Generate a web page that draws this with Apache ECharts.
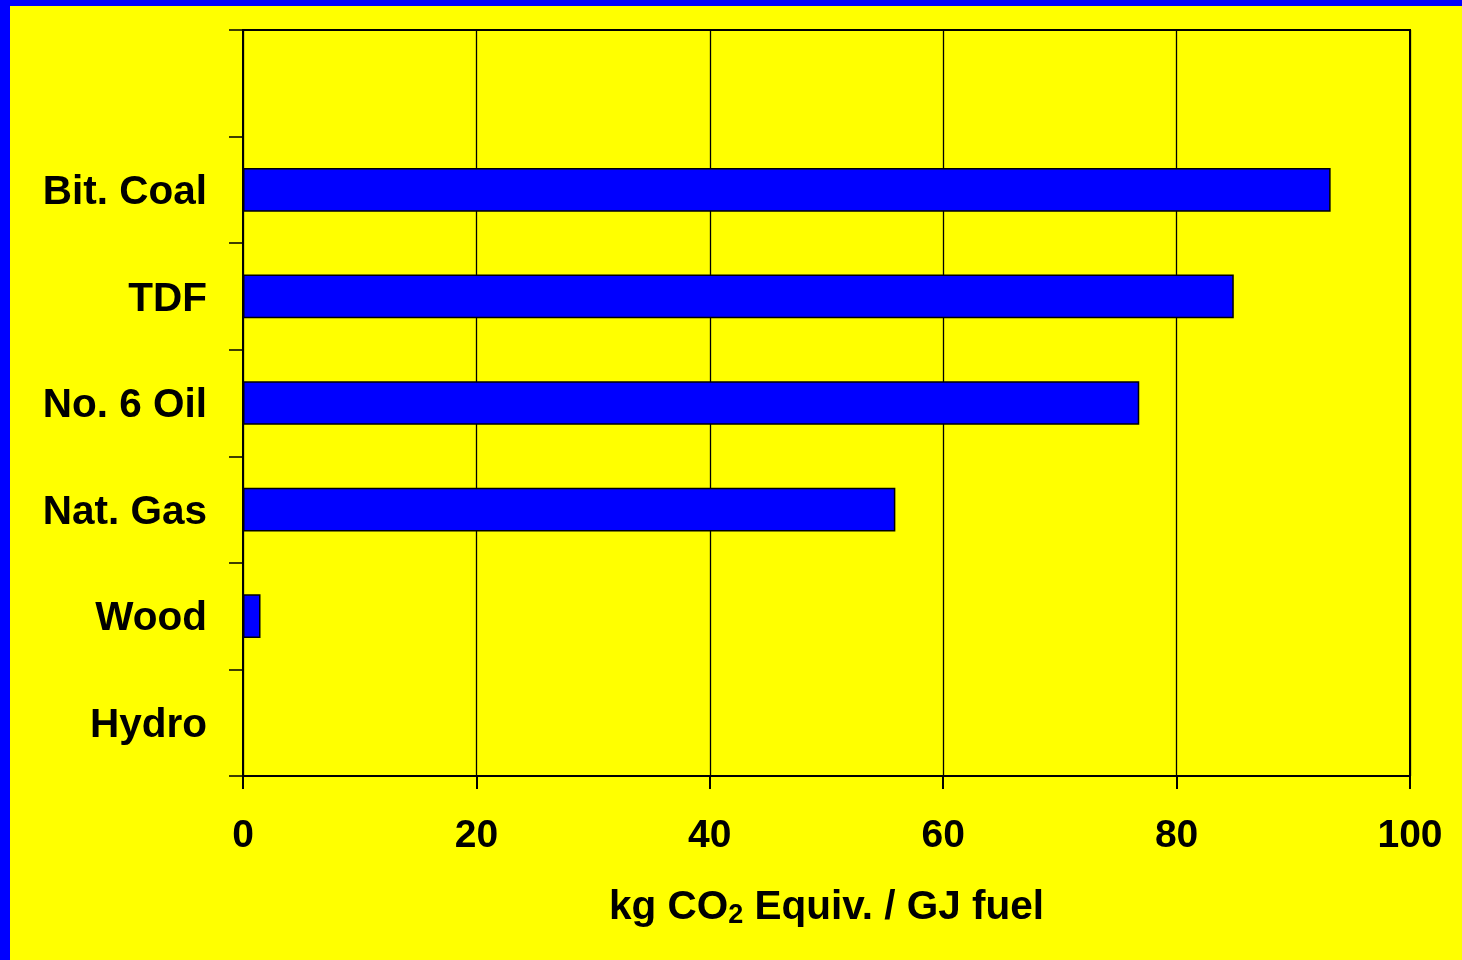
<!DOCTYPE html>
<html>
<head>
<meta charset="utf-8">
<script src="https://cdn.jsdelivr.net/npm/echarts@6/dist/echarts.min.js"></script>
<style>
html,body{margin:0;padding:0;background:#ffff00;}
#chart{width:1462px;height:960px;}
</style>
</head>
<body>
<div id="chart"></div>
<script>
const categories = ['Hydro', 'Wood', 'Nat. Gas', 'No. 6 Oil', 'TDF', 'Bit. Coal', ''];
const emissions = [0, 1.5, 55.9, 76.8, 84.9, 93.2, null];
const xTicks = { min: 0, max: 100, interval: 20 };
const axisTitle = ['kg CO', '2', ' Equiv. / GJ fuel'];

const FONT = '"Liberation Sans", Arial, sans-serif';
const chart = echarts.init(document.getElementById('chart'), null, { renderer: 'canvas' });
chart.setOption({
  backgroundColor: '#ffff00',
  animation: false,
  graphic: [
    { type: 'rect', shape: { x: 0, y: 0, width: 10, height: 960 }, style: { fill: '#0000ff' }, z: 100 },
    { type: 'rect', shape: { x: 0, y: 0, width: 1462, height: 6 }, style: { fill: '#0000ff' }, z: 100 }
  ],
  grid: {
    left: 243, right: 52, top: 30, bottom: 184,
    show: true, borderColor: '#000', borderWidth: 2, backgroundColor: 'transparent'
  },
  xAxis: {
    type: 'value',
    min: xTicks.min, max: xTicks.max, interval: xTicks.interval,
    axisLine: { show: true, lineStyle: { color: '#000', width: 2 } },
    axisTick: { show: true, length: 13, lineStyle: { color: '#000', width: 2 } },
    splitLine: { show: true, lineStyle: { color: '#000', width: 1.3 } },
    axisLabel: { color: '#000', fontFamily: FONT, fontWeight: 'bold', fontSize: 39, margin: 41 },
    name: '{n|' + axisTitle[0] + '}{s|' + axisTitle[1] + '}{n|' + axisTitle[2] + '}',
    nameLocation: 'middle',
    nameGap: 110,
    nameTextStyle: {
      rich: {
        n: { color: '#000', fontFamily: FONT, fontWeight: 'bold', fontSize: 40.5 },
        s: { color: '#000', fontFamily: FONT, fontWeight: 'bold', fontSize: 27, padding: [16, 0, 0, 0] }
      }
    }
  },
  yAxis: {
    type: 'category',
    data: categories,
    boundaryGap: true,
    axisLine: { show: true, lineStyle: { color: '#000', width: 2 } },
    axisTick: { show: true, length: 14, lineStyle: { color: '#000', width: 1.5 } },
    splitLine: { show: false },
    axisLabel: {
      margin: 36,
      formatter: v => v ? '{c|' + v + '}' : '',
      rich: { c: { color: '#000', fontFamily: FONT, fontWeight: 'bold', fontSize: 40.5, padding: [6, 0, 0, 0] } }
    }
  },
  series: [{
    type: 'bar',
    data: emissions,
    barWidth: '41%',
    itemStyle: { color: '#0000ff', borderColor: '#000', borderWidth: 1.5 }
  }]
});
</script>
</body>
</html>
